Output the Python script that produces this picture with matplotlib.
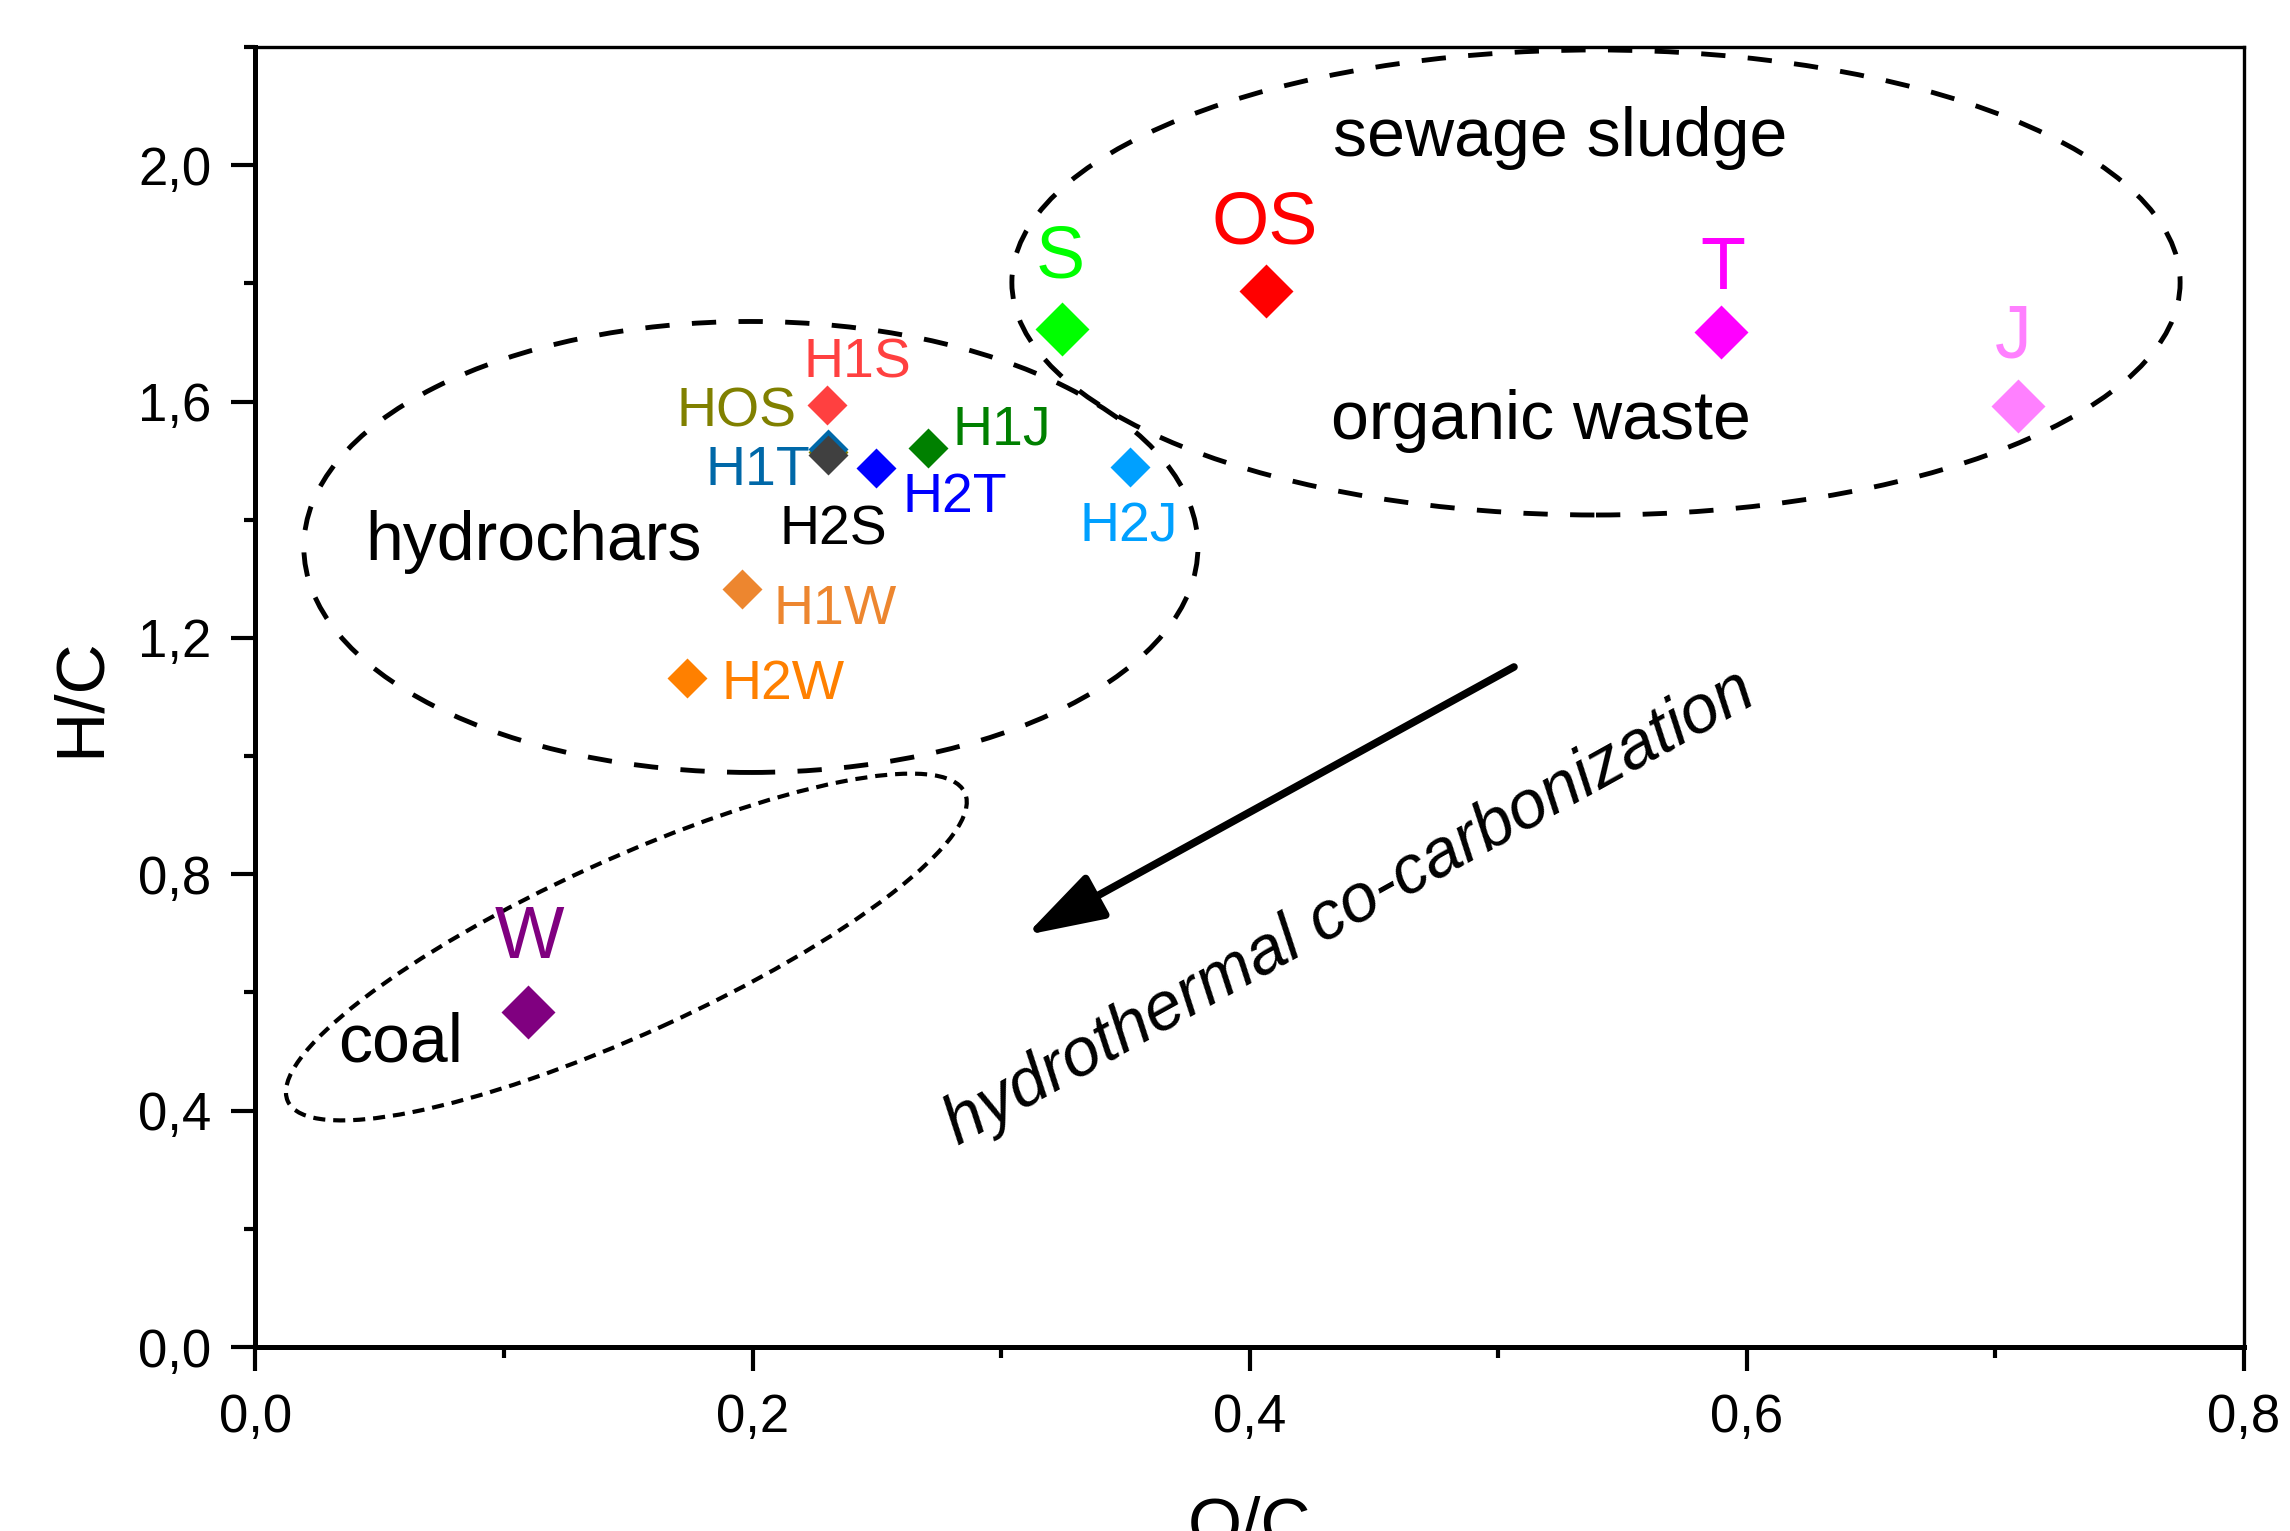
import matplotlib
matplotlib.use("Agg")
import matplotlib.pyplot as plt
from matplotlib.patches import Ellipse
from matplotlib.transforms import Affine2D
from matplotlib.ticker import MultipleLocator

plt.rcParams["font.family"] = ["Liberation Sans", "DejaVu Sans"]

# --- data: van Krevelen points (O/C, H/C) ---
raw_names = ["S", "OS", "T", "J", "W"]
raw_oc = [0.3246, 0.4067, 0.5895, 0.7091, 0.1095]
raw_hc = [1.7228, 1.7876, 1.7182, 1.5930, 0.5664]
raw_colors = ["#00FF00", "#FF0000", "#FF00FF", "#FF80FF", "#800080"]

char_names = ["H1S", "HOS", "H1T", "H2S", "H2T", "H1J", "H2J", "H1W", "H2W"]
char_oc = [0.2298, 0.2303, 0.2305, 0.2302, 0.2496, 0.2704, 0.3520, 0.1956, 0.1734]
char_hc = [1.5942, 1.5146, 1.5192, 1.5095, 1.4881, 1.5209, 1.4886, 1.2828, 1.1327]
char_colors = ["#FF4040", "#808000", "#0068A8", "#404040", "#0000FF",
               "#008000", "#00A0FF", "#ED862F", "#FF8000"]
char_text_colors = ["#FF4040", "#808000", "#0068A8", "#000000", "#0000FF",
                    "#008000", "#00A0FF", "#ED862F", "#FF8000"]

x_ticks = [0.0, 0.2, 0.4, 0.6, 0.8]
x_ticklabels = ["0,0", "0,2", "0,4", "0,6", "0,8"]
y_ticks = [0.0, 0.4, 0.8, 1.2, 1.6, 2.0]
y_ticklabels = ["0,0", "0,4", "0,8", "1,2", "1,6", "2,0"]

# label anchor positions (baseline, centred)
raw_label_pos = [(0.3237, 1.8096), (0.4059, 1.8683), (0.5902, 1.7900),
                 (0.7070, 1.6737), (0.1104, 0.6583)]
char_label_pos = [(0.2422, 1.6400), (0.1936, 1.5570), (0.2020, 1.4588),
                  (0.2325, 1.3573), (0.2814, 1.4131), (0.3003, 1.5265),
                  (0.3514, 1.3640), (0.2331, 1.2236), (0.2121, 1.0966)]

fig = plt.figure(figsize=(22.9, 15.31), dpi=100)
ax = fig.add_axes([0.11157, 0.12018, 0.86834, 0.84912])
ax.set_xlim(0, 0.8)
ax.set_ylim(0, 2.2)

# pixels per data unit, used for the tilted coal ellipse
fig_w, fig_h = fig.get_size_inches() * fig.dpi
pos = ax.get_position()
sx = pos.width * fig_w / 0.8
sy = pos.height * fig_h / 2.2

# group ellipses
ax.add_patch(Ellipse((0.1993, 1.3539), 0.3597, 0.7632, fill=False, ec="black",
                     lw=3.5, ls=(0, (5, 4.6)), zorder=1))
ax.add_patch(Ellipse((0.5393, 1.8015), 0.470, 0.787, fill=False, ec="black",
                     lw=3.5, ls=(0, (5, 4.6)), zorder=1))
ax.add_patch(Ellipse((0.1492 * sx, 0.6769 * sy), 2 * 372, 2 * 87, angle=24.5,
                     fill=False, ec="black", lw=3.0, ls=(0, (2.9, 1.9)),
                     transform=Affine2D().scale(1 / sx, 1 / sy) + ax.transData,
                     zorder=1))

# markers
for x, y, c in zip(char_oc, char_hc, char_colors):
    ax.plot(x, y, marker="D", ms=20.4, color=c, mec="none", ls="none", zorder=3)
for x, y, c in zip(raw_oc, raw_hc, raw_colors):
    ax.plot(x, y, marker="D", ms=27.5, color=c, mec="none", ls="none", zorder=3)

for name, (x, y), c in zip(char_names, char_label_pos, char_text_colors):
    ax.text(x, y, name, color=c, fontsize=40, ha="center", va="baseline")
for name, (x, y), c in zip(raw_names, raw_label_pos, raw_colors):
    ax.text(x, y, name, color=c, fontsize=53, ha="center", va="baseline")

# group names
ax.text(0.5248, 2.0156, "sewage sludge", fontsize=49, ha="center", va="baseline")
ax.text(0.5170, 1.5366, "organic waste", fontsize=49, ha="center", va="baseline")
ax.text(0.1118, 1.3319, "hydrochars", fontsize=49, ha="center", va="baseline")
ax.text(0.0583, 0.4828, "coal", fontsize=49, ha="center", va="baseline")

# process arrow
ax.annotate("", xy=(0.310, 0.6972), xytext=(0.5063, 1.1508),
            arrowprops=dict(arrowstyle="-|>,head_length=48,head_width=15",
                            mutation_scale=1, lw=5.5, color="black",
                            shrinkA=0, shrinkB=0))
ax.text(0.4403, 0.7429, "hydrothermal co-carbonization", fontsize=49,
        style="italic", rotation=29, rotation_mode="anchor",
        ha="center", va="center")

ax.set_xticks(x_ticks)
ax.set_xticklabels(x_ticklabels)
ax.set_yticks(y_ticks)
ax.set_yticklabels(y_ticklabels)
ax.xaxis.set_minor_locator(MultipleLocator(0.1))
ax.yaxis.set_minor_locator(MultipleLocator(0.2))
ax.tick_params(which="major", direction="out", length=17, width=3.0,
               labelsize=38, pad=15)
ax.tick_params(which="minor", direction="out", length=8, width=3.0)
ax.tick_params(axis="x", pad=16)

for side in ["left", "bottom"]:
    ax.spines[side].set_linewidth(3.6)
for side in ["top", "right"]:
    ax.spines[side].set_linewidth(2.4)

ax.set_xlabel("O/C", fontsize=50, labelpad=38)
ax.set_ylabel("H/C", fontsize=50, labelpad=18)

fig.savefig("out.png", dpi=100)
